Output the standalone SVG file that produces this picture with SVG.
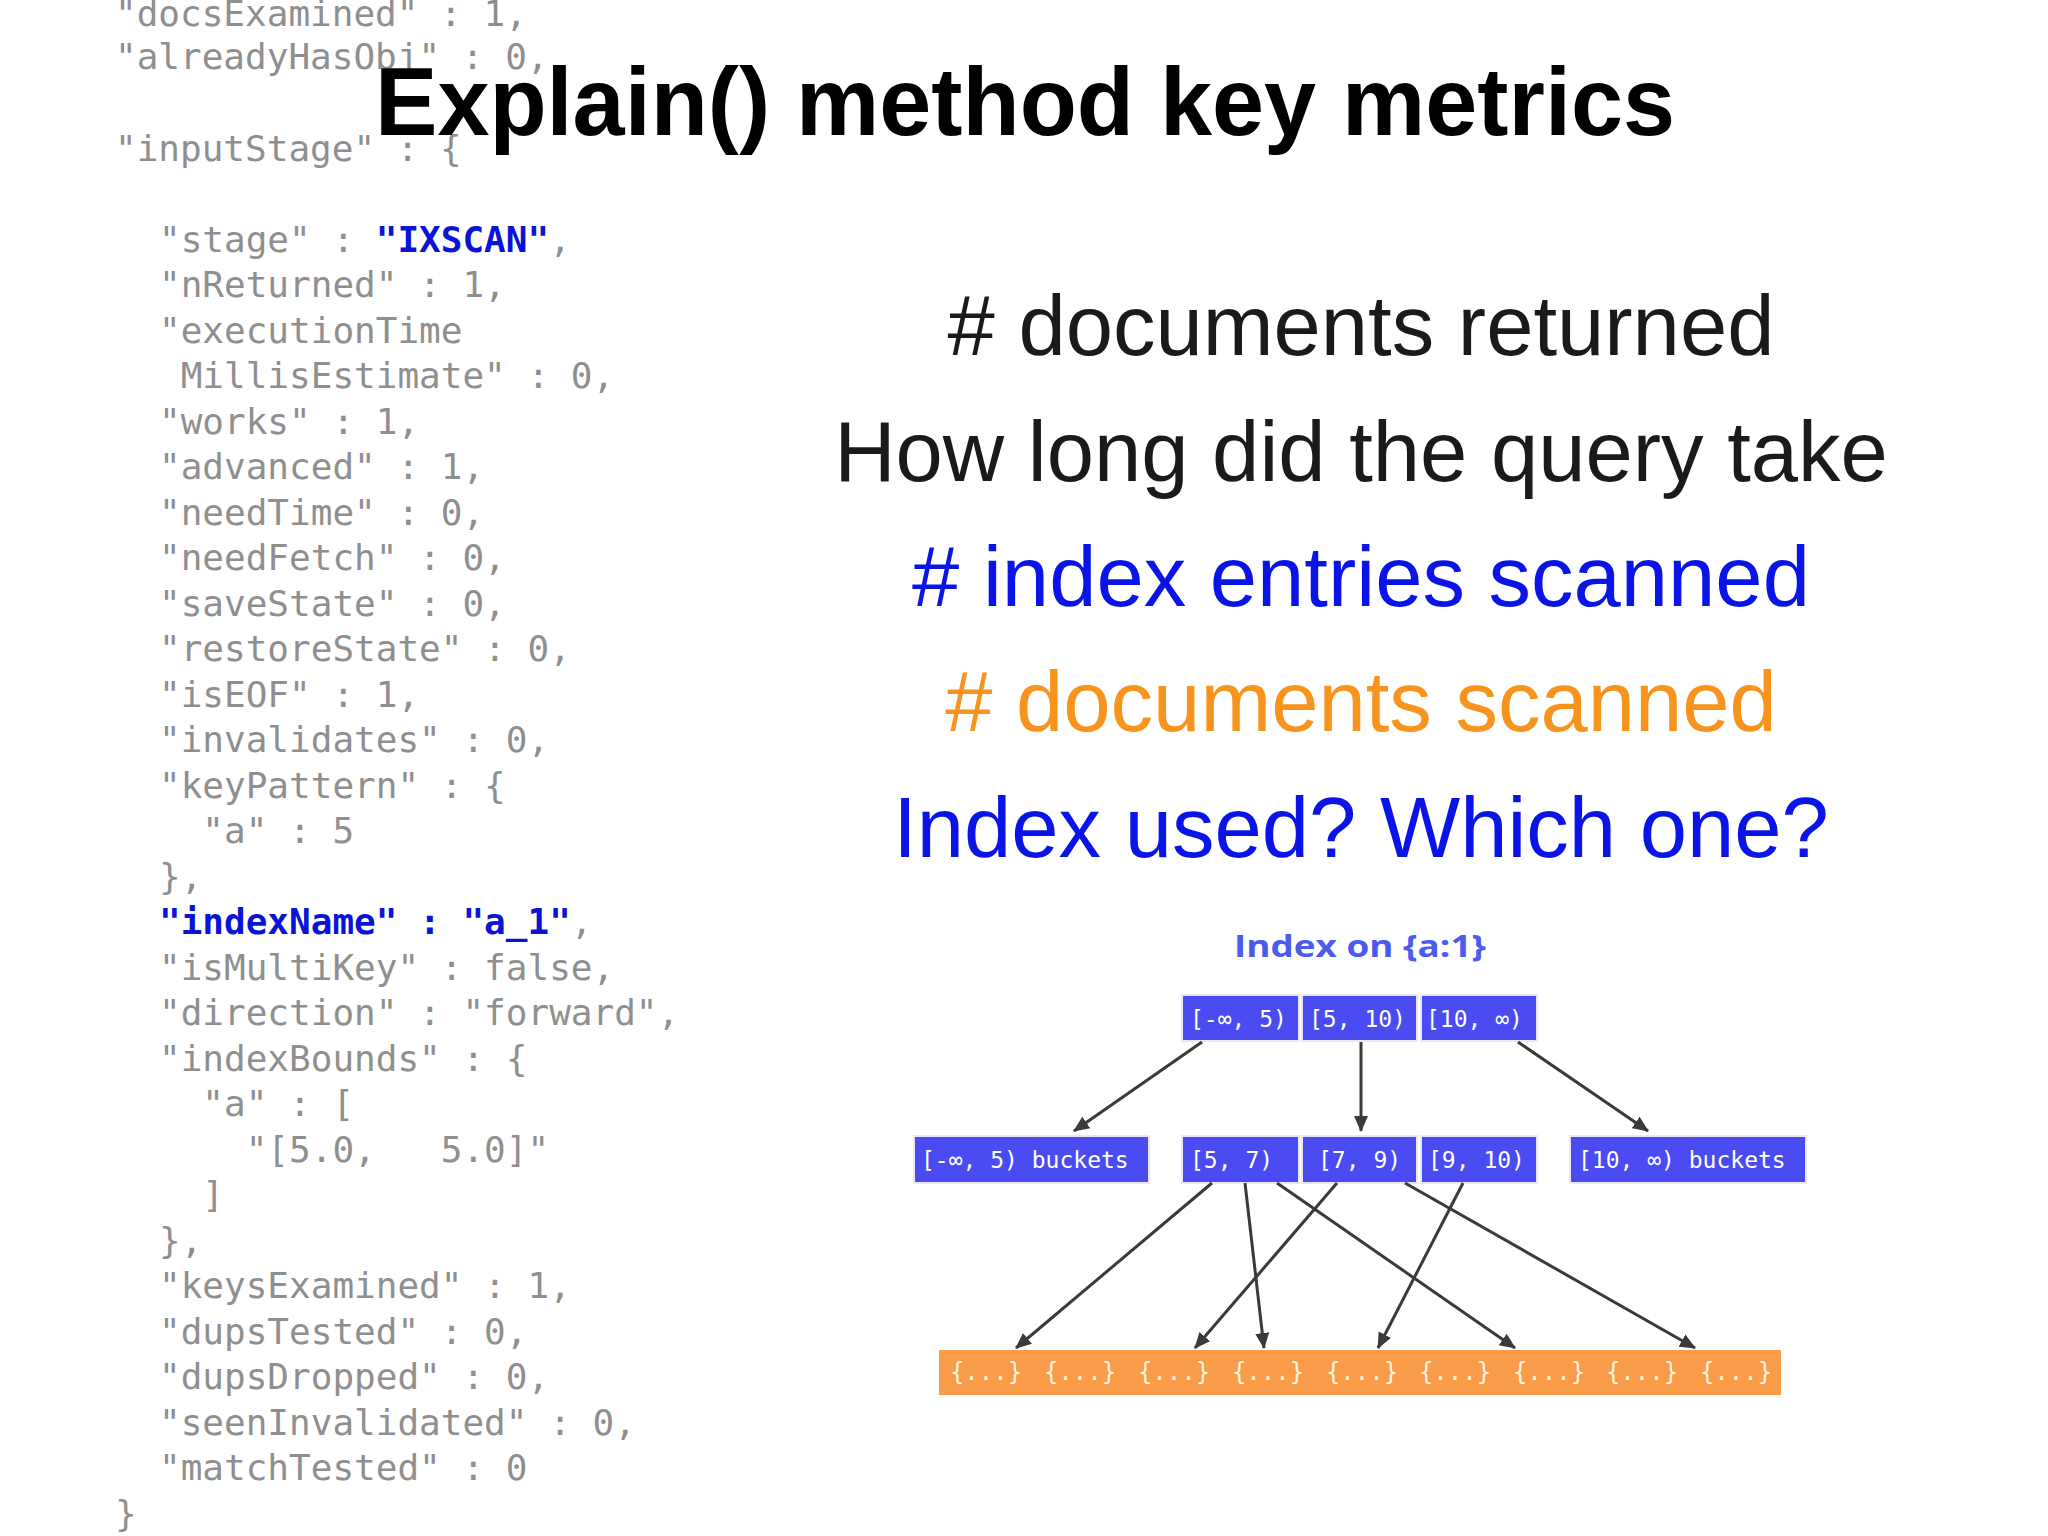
<svg xmlns="http://www.w3.org/2000/svg" width="2048" height="1536" viewBox="0 0 2048 1536">
<style>
.code{font-family:"DejaVu Sans Mono","Liberation Mono",monospace;font-size:36px;fill:#8f8f8f;white-space:pre}
.hl{fill:#0a14d8;font-weight:bold}
.m{font-family:"Liberation Sans",Arial,sans-serif;font-size:85px;text-anchor:middle}
.bx{fill:#4a4cf2;stroke:#e8e8f8;stroke-width:2}
.bt{font-family:"DejaVu Sans Mono",monospace;font-size:23px;fill:#fff;white-space:pre}
.ot{font-family:"DejaVu Sans Mono",monospace;font-size:24px;fill:#fff4dc;text-anchor:middle}
.c{stroke:#3a3a3a;stroke-width:3;fill:none;marker-end:url(#ah)}
</style>
<defs><marker id="ah" markerWidth="16" markerHeight="16" refX="15" refY="7" orient="auto" markerUnits="userSpaceOnUse" viewBox="0 0 16 14"><path d="M0,0L16,7L0,14z" fill="#3a3a3a"/></marker></defs>
<rect width="2048" height="1536" fill="#fff"/>
<g id="code">
<text class="code" x="115" y="26">"docsExamined" : 1,</text>
<text class="code" x="115" y="69">"alreadyHasObj" : 0,</text>
<text class="code" x="115" y="161">"inputStage" : {</text>
<text class="code" x="159" y="252">"stage" : <tspan class="hl">"IXSCAN"</tspan>,</text>
<text class="code" x="159" y="297">"nReturned" : 1,</text>
<text class="code" x="159" y="343">"executionTime</text>
<text class="code" x="159" y="388"> MillisEstimate" : 0,</text>
<text class="code" x="159" y="434">"works" : 1,</text>
<text class="code" x="159" y="479">"advanced" : 1,</text>
<text class="code" x="159" y="525">"needTime" : 0,</text>
<text class="code" x="159" y="570">"needFetch" : 0,</text>
<text class="code" x="159" y="616">"saveState" : 0,</text>
<text class="code" x="159" y="661">"restoreState" : 0,</text>
<text class="code" x="159" y="707">"isEOF" : 1,</text>
<text class="code" x="159" y="752">"invalidates" : 0,</text>
<text class="code" x="159" y="798">"keyPattern" : {</text>
<text class="code" x="159" y="843">  "a" : 5</text>
<text class="code" x="159" y="889">},</text>
<text class="code" x="159" y="934"><tspan class="hl">"indexName" : "a_1"</tspan>,</text>
<text class="code" x="159" y="980">"isMultiKey" : false,</text>
<text class="code" x="159" y="1025">"direction" : "forward",</text>
<text class="code" x="159" y="1071">"indexBounds" : {</text>
<text class="code" x="159" y="1116">  "a" : [</text>
<text class="code" x="159" y="1162">    "[5.0,   5.0]"</text>
<text class="code" x="159" y="1207">  ]</text>
<text class="code" x="159" y="1253">},</text>
<text class="code" x="159" y="1298">"keysExamined" : 1,</text>
<text class="code" x="159" y="1344">"dupsTested" : 0,</text>
<text class="code" x="159" y="1389">"dupsDropped" : 0,</text>
<text class="code" x="159" y="1435">"seenInvalidated" : 0,</text>
<text class="code" x="159" y="1480">"matchTested" : 0</text>
<text class="code" x="115" y="1526">}</text>
</g>
<text x="1025" y="135" font-family="Liberation Sans,Arial,sans-serif" font-weight="bold" font-size="96" text-anchor="middle" textLength="1300" lengthAdjust="spacingAndGlyphs" fill="#000">Explain() method key metrics</text>
<g id="metrics">
<text class="m" x="1361" y="355" fill="#1a1a1a"># documents returned</text>
<text class="m" x="1361" y="481" fill="#1a1a1a">How long did the query take</text>
<text class="m" x="1361" y="606" fill="#0a14e6"># index entries scanned</text>
<text class="m" x="1361" y="731" fill="#f7941d"># documents scanned</text>
<text class="m" x="1361" y="857" fill="#0a14e6">Index used? Which one?</text>
</g>
<text x="1360" y="957" font-family="Open Sans,Liberation Sans,sans-serif" font-weight="bold" font-size="31" text-anchor="middle" textLength="252" lengthAdjust="spacingAndGlyphs" fill="#4a5cf0">Index on {a:1}</text>
<g id="top">
<rect class="bx" x="1182" y="995" width="117" height="46"/><text class="bt" x="1190" y="1027">[-∞, 5)</text>
<rect class="bx" x="1302" y="995" width="115" height="46"/><text class="bt" x="1309" y="1027">[5, 10)</text>
<rect class="bx" x="1421" y="995" width="116" height="46"/><text class="bt" x="1426" y="1027">[10, ∞)</text>
</g>
<g id="lb"><rect class="bx" x="914" y="1136" width="235" height="47"/><text class="bt" x="921" y="1168">[-∞, 5) buckets</text></g>
<g id="mid">
<rect class="bx" x="1182" y="1136" width="117" height="47"/><text class="bt" x="1190" y="1168">[5, 7)</text>
<rect class="bx" x="1302" y="1136" width="115" height="47"/><text class="bt" x="1318" y="1168">[7, 9)</text>
<rect class="bx" x="1421" y="1136" width="116" height="47"/><text class="bt" x="1428" y="1168">[9, 10)</text>
</g>
<g id="rb"><rect class="bx" x="1570" y="1136" width="236" height="47"/><text class="bt" x="1578" y="1168">[10, ∞) buckets</text></g>
<g id="docs"><rect x="939" y="1350" width="842" height="45" fill="#f89c4a"/>
<text class="ot" x="986" y="1380">{...}</text><text class="ot" x="1080" y="1380">{...}</text><text class="ot" x="1174" y="1380">{...}</text><text class="ot" x="1268" y="1380">{...}</text><text class="ot" x="1362" y="1380">{...}</text><text class="ot" x="1455" y="1380">{...}</text><text class="ot" x="1549" y="1380">{...}</text><text class="ot" x="1642" y="1380">{...}</text><text class="ot" x="1736" y="1380">{...}</text>
</g>
<g id="connectors">
<line class="c" x1="1202" y1="1042" x2="1074" y2="1131"/>
<line class="c" x1="1361" y1="1042" x2="1361" y2="1131"/>
<line class="c" x1="1518" y1="1042" x2="1648" y2="1131"/>
<line class="c" x1="1212" y1="1183" x2="1016" y2="1348"/>
<line class="c" x1="1245" y1="1183" x2="1264" y2="1348"/>
<line class="c" x1="1277" y1="1183" x2="1515" y2="1348"/>
<line class="c" x1="1337" y1="1183" x2="1195" y2="1348"/>
<line class="c" x1="1405" y1="1183" x2="1695" y2="1348"/>
<line class="c" x1="1463" y1="1183" x2="1378" y2="1348"/>
</g>
</svg>
